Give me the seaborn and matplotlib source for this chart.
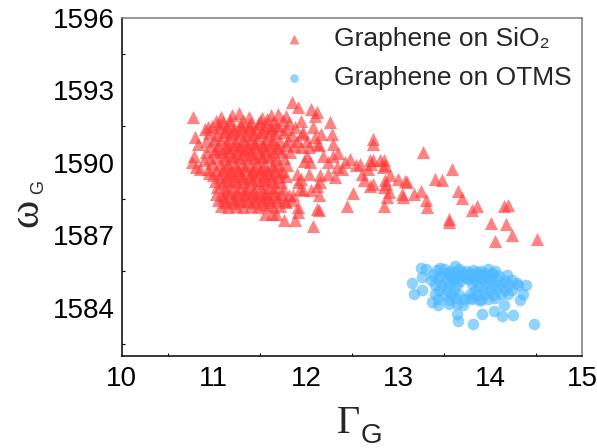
import numpy as np
import pandas as pd
import matplotlib
matplotlib.use("Agg")
import matplotlib.pyplot as plt
import seaborn as sns

# ---------------- data ----------------
# Graphene on SiO2 : dense core
sio2_core_x = [
    11.08, 11.20, 11.27, 11.38, 11.52, 11.62, 11.70, 11.78,
    11.02, 11.10, 11.18, 11.32, 11.40, 11.50, 11.58, 11.64, 11.75, 11.82, 11.95,
    10.98, 11.06, 11.14, 11.22, 11.30, 11.38, 11.46, 11.55, 11.62, 11.70, 11.78, 11.88,
    10.95, 11.03, 11.11, 11.19, 11.27, 11.35, 11.43, 11.51, 11.59, 11.67, 11.75, 11.85, 11.96,
    10.92, 11.00, 11.08, 11.16, 11.24, 11.32, 11.40, 11.48, 11.56, 11.64, 11.72, 11.81, 11.90,
    10.97, 11.05, 11.13, 11.21, 11.29, 11.37, 11.45, 11.53, 11.61, 11.69, 11.78, 11.87,
    11.01, 11.09, 11.17, 11.25, 11.33, 11.41, 11.49, 11.57, 11.65, 11.74, 11.83,
    10.96, 11.04, 11.12, 11.20, 11.28, 11.36, 11.44, 11.52, 11.60, 11.68, 11.76,
    10.98, 11.07, 11.15, 11.23, 11.31, 11.39, 11.47, 11.55, 11.63, 11.71, 11.80,
    10.94, 11.02, 11.10, 11.18, 11.26, 11.34, 11.42, 11.50, 11.58, 11.66, 11.74,
    10.99, 11.07, 11.15, 11.23, 11.31, 11.39, 11.47, 11.55, 11.63, 11.71, 11.79,
    11.01, 11.09, 11.17, 11.25, 11.33, 11.41, 11.49, 11.57, 11.65, 11.73,
    11.03, 11.11, 11.19, 11.27, 11.35, 11.43, 11.51, 11.59, 11.67, 11.75,
    11.02, 11.10, 11.18, 11.26, 11.34, 11.42, 11.50, 11.58, 11.66, 11.74, 11.82,
    11.05, 11.13, 11.21, 11.29, 11.37, 11.45, 11.53, 11.61, 11.69, 11.77, 11.85,
    11.08, 11.16, 11.24, 11.32, 11.40, 11.48, 11.56, 11.64, 11.72,
    11.12, 11.22, 11.32, 11.42, 11.52, 11.62,
    11.14, 11.24, 11.34, 11.44, 11.54, 11.64,
    11.12, 11.22, 11.32, 11.42, 11.52, 11.62,
    11.14, 11.24, 11.34, 11.44, 11.54, 11.64,
    11.12, 11.22, 11.32, 11.42, 11.52, 11.62,
    11.14, 11.24, 11.34, 11.44, 11.54, 11.64,
    11.12, 11.22, 11.32, 11.42, 11.52, 11.62,
    11.06, 11.18, 11.28, 11.38, 11.48, 11.58, 11.68,
    11.04, 11.16, 11.26, 11.36, 11.46, 11.56, 11.70,
    11.08, 11.20, 11.30, 11.40, 11.50, 11.60, 11.72,
    11.10, 11.22, 11.34, 11.46, 11.58, 11.70,
]
sio2_core_w = [
    1591.88, 1591.95, 1592.05, 1591.90, 1591.85, 1591.98, 1592.02, 1591.92,
    1591.72, 1591.66, 1591.78, 1591.70, 1591.62, 1591.74, 1591.80, 1591.68, 1591.75, 1591.64, 1591.70,
    1591.50, 1591.42, 1591.47, 1591.38, 1591.52, 1591.44, 1591.40, 1591.49, 1591.43, 1591.51, 1591.37, 1591.46,
    1591.22, 1591.15, 1591.26, 1591.18, 1591.24, 1591.12, 1591.20, 1591.27, 1591.16, 1591.21, 1591.25, 1591.14, 1591.19,
    1590.90, 1590.98, 1590.93, 1591.00, 1590.88, 1590.96, 1590.92, 1590.99, 1590.91, 1590.97, 1590.89, 1590.95, 1590.90,
    1590.68, 1590.74, 1590.66, 1590.72, 1590.70, 1590.64, 1590.75, 1590.69, 1590.73, 1590.65, 1590.71, 1590.67,
    1590.48, 1590.42, 1590.46, 1590.40, 1590.50, 1590.44, 1590.41, 1590.47, 1590.43, 1590.49, 1590.45,
    1590.18, 1590.24, 1590.16, 1590.22, 1590.19, 1590.25, 1590.17, 1590.21, 1590.23, 1590.15, 1590.20,
    1589.97, 1589.92, 1589.99, 1589.93, 1589.96, 1589.91, 1589.98, 1589.94, 1589.90, 1589.96, 1589.92,
    1589.72, 1589.68, 1589.74, 1589.66, 1589.71, 1589.75, 1589.67, 1589.73, 1589.69, 1589.70, 1589.65,
    1589.47, 1589.42, 1589.49, 1589.43, 1589.46, 1589.41, 1589.48, 1589.44, 1589.50, 1589.42, 1589.45,
    1589.22, 1589.17, 1589.24, 1589.18, 1589.21, 1589.25, 1589.16, 1589.23, 1589.19, 1589.20,
    1588.97, 1588.92, 1588.98, 1588.93, 1588.96, 1588.91, 1588.99, 1588.94, 1588.97, 1588.90,
    1588.72, 1588.67, 1588.74, 1588.68, 1588.71, 1588.75, 1588.66, 1588.73, 1588.69, 1588.70, 1588.65,
    1588.47, 1588.42, 1588.48, 1588.43, 1588.46, 1588.41, 1588.49, 1588.44, 1588.47, 1588.43, 1588.46,
    1588.22, 1588.17, 1588.20, 1588.15, 1588.21, 1588.18, 1588.23, 1588.16, 1588.19,
    1591.32, 1591.28, 1591.35, 1591.30, 1591.26, 1591.33,
    1590.82, 1590.78, 1590.85, 1590.80, 1590.76, 1590.83,
    1590.32, 1590.28, 1590.35, 1590.30, 1590.26, 1590.33,
    1589.82, 1589.78, 1589.85, 1589.80, 1589.76, 1589.83,
    1589.32, 1589.28, 1589.35, 1589.30, 1589.26, 1589.33,
    1588.82, 1588.78, 1588.85, 1588.80, 1588.76, 1588.83,
    1588.37, 1588.33, 1588.40, 1588.35, 1588.31, 1588.38,
    1591.58, 1591.55, 1591.60, 1591.56, 1591.59, 1591.54, 1591.57,
    1590.57, 1590.60, 1590.55, 1590.58, 1590.61, 1590.56, 1590.59,
    1589.57, 1589.60, 1589.55, 1589.58, 1589.61, 1589.56, 1589.59,
    1588.58, 1588.55, 1588.60, 1588.57, 1588.56, 1588.59,
]

# Graphene on SiO2 : scattered points
sio2_edge_x = [
    10.77, 10.80, 10.83, 10.78, 10.76, 10.81, 10.85, 10.94, 10.90, 10.92, 10.89, 10.95,
    11.85, 11.92, 12.06, 12.12, 12.10, 12.08, 12.10, 12.12, 12.01, 12.05, 11.90, 11.95,
    11.92, 11.97, 12.06, 12.12, 12.14, 11.86, 11.79, 11.92, 11.92, 11.76, 11.88, 11.56,
    11.63, 11.68, 12.12, 12.14, 12.08, 12.03, 11.94, 12.15, 12.15, 12.24, 12.19, 12.30,
    12.35, 12.24, 12.39, 12.34, 12.32, 12.43, 12.48, 12.55, 12.59, 12.30, 12.28, 12.17,
    12.14, 12.03, 12.26, 12.68, 12.70, 12.73, 12.71, 12.81, 12.84, 12.85, 12.86, 12.73,
    12.73, 12.61, 12.63, 12.73, 12.70, 12.51, 12.45, 12.85, 12.86, 12.87, 12.85, 12.91,
    13.00, 13.08, 13.10, 12.90, 12.88, 13.05, 13.06, 13.17, 13.25, 13.31, 13.32, 13.27,
    13.59, 13.40, 13.48, 13.65, 13.70, 13.80, 13.86, 13.55, 13.56, 14.15, 14.20, 14.01,
    14.17, 14.24, 14.06, 14.51, 11.97, 12.01, 11.95, 11.98,
]
sio2_edge_w = [
    1591.88, 1591.05, 1590.78, 1590.29, 1590.02, 1589.81, 1589.74, 1591.46, 1591.40, 1590.43, 1590.09, 1589.55,
    1592.50, 1592.29, 1592.22, 1592.08, 1591.94, 1591.46, 1591.05, 1590.78, 1590.29, 1590.02, 1589.54, 1589.33,
    1589.19, 1588.85, 1588.85, 1589.05, 1588.64, 1588.64, 1588.36, 1588.16, 1587.95, 1587.61, 1587.61, 1587.88,
    1587.88, 1587.88, 1588.09, 1588.05, 1587.36, 1589.54, 1588.92, 1589.19, 1589.47, 1589.54, 1590.29, 1590.29,
    1590.39, 1590.02, 1589.74, 1589.81, 1589.40, 1590.02, 1590.16, 1589.91, 1589.95, 1590.78, 1591.19, 1591.19,
    1590.71, 1590.64, 1591.67, 1589.74, 1590.09, 1590.12, 1589.95, 1590.09, 1589.81, 1590.10, 1589.88, 1590.98,
    1590.75, 1589.54, 1589.26, 1589.12, 1589.05, 1588.74, 1588.19, 1588.20, 1589.26, 1589.12, 1588.98, 1589.47,
    1589.33, 1589.23, 1589.19, 1588.78, 1588.57, 1588.71, 1588.57, 1588.71, 1588.82, 1588.47, 1588.16, 1590.43,
    1589.74, 1589.33, 1589.29, 1588.82, 1588.55, 1588.02, 1588.19, 1587.68, 1587.54, 1588.19, 1588.23, 1587.50,
    1587.47, 1587.02, 1586.75, 1586.85, 1591.25, 1590.90, 1590.63, 1590.05,
]

# Graphene on OTMS
otms_x = [
    13.42, 13.50, 13.58, 13.66, 13.74, 13.82, 13.90, 13.98, 14.06,
    13.38, 13.46, 13.54, 13.62, 13.70, 13.78, 13.86, 13.94, 14.02, 14.10, 14.18,
    13.36, 13.44, 13.52, 13.60, 13.68, 13.76, 13.84, 13.92, 14.00, 14.08, 14.16, 14.24,
    13.40, 13.48, 13.56, 13.64, 13.80, 13.88, 13.96, 14.04, 14.12, 14.20, 14.30,
    13.45, 13.53, 13.61, 13.84, 13.92, 14.00, 14.08, 14.16, 14.24,
    13.40, 13.50, 13.58, 13.66, 13.78, 13.86, 13.95, 14.03, 14.12, 14.20,
    13.44, 13.56, 13.62, 13.72, 13.80, 13.90, 13.98, 14.06,
    13.25, 13.31, 13.15, 13.17, 13.26, 13.26, 13.46, 13.62, 13.37, 13.44,
    13.55, 13.64, 13.71, 13.64, 13.65, 13.82, 13.91, 14.04, 14.13, 14.25,
    14.15, 14.48, 14.33, 14.36, 14.39, 14.29, 13.88, 13.78,
    13.54, 13.62, 13.70, 13.78, 13.86, 13.94, 14.02,
    13.58, 13.66, 13.74, 13.82, 13.90, 13.98,
]
otms_w = [
    1585.55, 1585.60, 1585.52, 1585.58, 1585.50, 1585.57, 1585.53, 1585.59, 1585.51,
    1585.35, 1585.31, 1585.38, 1585.33, 1585.36, 1585.30, 1585.37, 1585.34, 1585.39, 1585.32, 1585.35,
    1585.15, 1585.18, 1585.12, 1585.16, 1585.11, 1585.17, 1585.14, 1585.19, 1585.13, 1585.16, 1585.12, 1585.15,
    1584.95, 1584.92, 1584.98, 1584.93, 1584.96, 1584.91, 1584.97, 1584.94, 1584.99, 1584.92, 1584.95,
    1584.75, 1584.72, 1584.78, 1584.74, 1584.77, 1584.71, 1584.76, 1584.73, 1584.75,
    1584.55, 1584.52, 1584.58, 1584.54, 1584.57, 1584.51, 1584.56, 1584.53, 1584.55, 1584.58,
    1584.35, 1584.32, 1584.38, 1584.34, 1584.37, 1584.33, 1584.36, 1584.40,
    1585.65, 1585.61, 1585.02, 1584.55, 1584.74, 1585.26, 1585.65, 1585.71, 1584.23, 1584.10,
    1584.17, 1584.17, 1584.10, 1583.72, 1583.45, 1583.31, 1583.75, 1583.85, 1583.65, 1583.68,
    1584.10, 1583.31, 1584.33, 1584.58, 1584.92, 1585.00, 1584.30, 1584.38,
    1585.45, 1585.42, 1585.47, 1585.44, 1585.46, 1585.43, 1585.45,
    1585.25, 1585.22, 1585.27, 1585.24, 1585.26, 1585.23,
]

labels = ["Graphene on SiO\u2082", "Graphene on OTMS"]
x_ticks = [10, 11, 12, 13, 14, 15]
y_ticks = [1584, 1587, 1590, 1593, 1596]

sio2 = pd.DataFrame({"gamma": sio2_core_x + sio2_edge_x,
                     "omega": sio2_core_w + sio2_edge_w})
otms = pd.DataFrame({"gamma": otms_x, "omega": otms_w})

# ---------------- styling ----------------
sns.set_theme(style="white")
plt.rcParams["font.family"] = ["Liberation Sans", "DejaVu Sans"]

W, H = 597, 448
fig = plt.figure(figsize=(W / 100, H / 100), dpi=100)
ax = fig.add_axes([121.7 / W, 1 - 356 / H, (582 - 121.7) / W, (356 - 17.5) / H])

red = (1.0, 0.22, 0.22)
blue = (0.30, 0.72, 1.0)

sns.scatterplot(data=sio2, x="gamma", y="omega", ax=ax, marker="^", s=90,
                color=red, alpha=0.62, linewidth=0, label=labels[0])
sns.scatterplot(data=otms, x="gamma", y="omega", ax=ax, marker="o", s=70,
                color=blue, alpha=0.62, linewidth=0, label=labels[1])

ax.set_xlim(10, 15)
ax.set_ylim(1582, 1596)
ax.set_xticks(x_ticks)
ax.set_yticks(y_ticks)
ax.set_xticks(np.arange(10.5, 15, 1.0), minor=True)
ax.set_yticks([1582.5, 1585.5, 1588.5, 1591.5, 1594.5], minor=True)
ax.tick_params(axis="both", which="major", direction="in", length=4.5, width=0.9,
               labelsize=20, colors="black", pad=5)
ax.tick_params(axis="both", which="minor", direction="in", length=2.5, width=0.8,
               colors="black", bottom=True, left=True)
ax.tick_params(axis="x", which="major", pad=7)
for side in ["left", "bottom"]:
    ax.spines[side].set_color("black")
    ax.spines[side].set_linewidth(1.1)
for side in ["top", "right"]:
    ax.spines[side].set_color("#7a7a7a")
    ax.spines[side].set_linewidth(1.1)
    ax.spines[side].set_visible(True)
ax.set_xlabel("")
ax.set_ylabel("")

leg = ax.legend(loc="upper left", bbox_to_anchor=(0.323, 1.003), frameon=False,
                fontsize=19, markerscale=0.75, handlelength=1.0, handletextpad=1.0,
                labelspacing=0.55, borderaxespad=0)
for h in leg.legend_handles:
    h.set_alpha(0.6)

# axis labels (serif symbol + sans subscript)
fig.text(37 / W, 1 - 213 / H, "\u03c9", rotation=90, rotation_mode="anchor",
         ha="center", va="baseline", fontsize=31, family="Liberation Serif")
fig.text(43 / W, 1 - 187.5 / H, "G", rotation=90, rotation_mode="anchor",
         ha="center", va="baseline", fontsize=13, family="Liberation Sans")
fig.text(348 / W, 1 - 433 / H, "\u0393", ha="center", va="baseline",
         fontsize=29, family="Liberation Serif")
fig.text(371 / W, 1 - 443 / H, "G", ha="center", va="baseline",
         fontsize=20, family="Liberation Sans")

fig.savefig("out.png", dpi=100)
